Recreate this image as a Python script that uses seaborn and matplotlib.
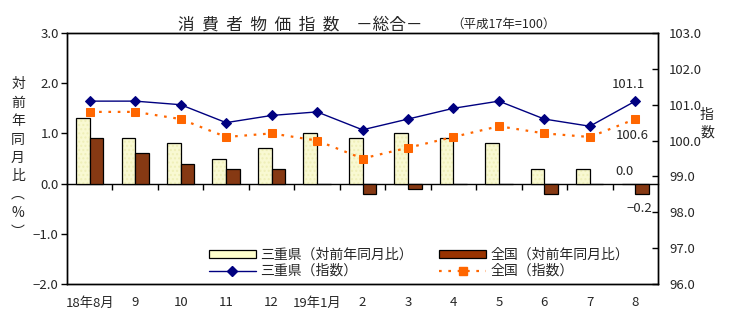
import numpy as np
import pandas as pd
import matplotlib
matplotlib.use("Agg")
import matplotlib.pyplot as plt
import matplotlib.colors as mcolors
from matplotlib.patches import Patch
from matplotlib.lines import Line2D
import seaborn as sns

months = ["18年8月", "9", "10", "11", "12", "19年1月", "2", "3", "4", "5", "6", "7", "8"]
mie_yoy = [1.3, 0.9, 0.8, 0.5, 0.7, 1.0, 0.9, 1.0, 0.9, 0.8, 0.3, 0.3, 0.0]
nat_yoy = [0.9, 0.6, 0.4, 0.3, 0.3, 0.0, -0.2, -0.1, 0.0, 0.0, -0.2, 0.0, -0.2]
mie_idx = [101.1, 101.1, 101.0, 100.5, 100.7, 100.8, 100.3, 100.6, 100.9, 101.1, 100.6, 100.4, 101.1]
nat_idx = [100.8, 100.8, 100.6, 100.1, 100.2, 100.0, 99.5, 99.8, 100.1, 100.4, 100.2, 100.1, 100.6]
lab_mie_bar = "三重県（対前年同月比）"
lab_nat_bar = "全国（対前年同月比）"
lab_mie_line = "三重県（指数）"
lab_nat_line = "全国（指数）"

sns.set_style("white")
plt.rcParams["font.family"] = ["Noto Sans CJK JP", "DejaVu Sans"]

c_mie_bar = "#FFFFCC"
c_nat_bar = "#993300"
c_mie_line = "#000080"
c_nat_line = "#FF6600"

df = pd.DataFrame({
    "month": months * 2,
    "region": [lab_mie_bar] * len(months) + [lab_nat_bar] * len(months),
    "value": mie_yoy + nat_yoy,
})

fig = plt.figure(figsize=(7.29, 3.28), dpi=100)
ax = fig.add_axes([67 / 729, 44 / 328, 591 / 729, 251 / 328])

sns.barplot(data=df, x="month", y="value", hue="region", order=months,
            hue_order=[lab_mie_bar, lab_nat_bar],
            palette={lab_mie_bar: c_mie_bar, lab_nat_bar: c_nat_bar},
            width=0.6, edgecolor="black", linewidth=0.9, ax=ax, legend=False)

# faint dotted pattern for Mie bars
for p in ax.patches[:len(months)]:
    p.set_hatch("....")
    try:
        p._hatch_color = mcolors.to_rgba("#EFEFB8")
    except Exception:
        pass

ax.set_xlim(-0.5, len(months) - 0.5)
ax.set_ylim(-2.0, 3.0)
ax.set_yticks(np.arange(-2, 3.01, 1.0))
ax.set_yticklabels([f"{v:.1f}".replace("-", "−") for v in np.arange(-2, 3.01, 1.0)], fontsize=9.5)
ax.tick_params(axis="y", direction="out", length=4, width=1, color="black", pad=2)
ax.tick_params(axis="x", length=0, pad=9, labelsize=9.5)
ax.set_xlabel("")
ax.set_ylabel("")
for s in ax.spines.values():
    s.set_visible(True)
    s.set_color("black")
    s.set_linewidth(1)

# zero line with category boundary ticks
sec = ax.secondary_xaxis(0.4)
sec.set_xticks(np.arange(0.5, len(months) - 1, 1.0))
sec.set_xticklabels([])
sec.tick_params(direction="out", length=4, width=1, color="black")
sec.spines["bottom"].set_color("black")
sec.spines["bottom"].set_linewidth(1)

ax2 = ax.twinx()
x = np.arange(len(months))
sns.lineplot(x=x, y=mie_idx, ax=ax2, color=c_mie_line, linewidth=1,
             marker="D", markersize=5.5, markeredgecolor=c_mie_line)
sns.lineplot(x=x, y=nat_idx, ax=ax2, color=c_nat_line, linewidth=1.6,
             linestyle=(0, (1.2, 3)), marker="s", markersize=5.5,
             markeredgecolor=c_nat_line)
ax2.set_ylim(96.0, 103.0)
ax2.set_yticks(np.arange(96, 103.01, 1.0))
ax2.set_yticklabels([f"{v:.1f}" for v in np.arange(96, 103.01, 1.0)], fontsize=9.5)
ax2.tick_params(axis="y", direction="in", length=4, width=1, color="black", pad=8)
for s in ax2.spines.values():
    s.set_visible(True)
    s.set_color("black")
    s.set_linewidth(1)

# annotations
ax2.annotate(f"{mie_idx[-1]:.1f}", (x[-1], mie_idx[-1]), xytext=(-5, 7),
             textcoords="offset points", ha="center", va="bottom", fontsize=9.5)
ax2.annotate(f"{nat_idx[-1]:.1f}", (x[-1], nat_idx[-1]), xytext=(-2, -7),
             textcoords="offset points", ha="center", va="top", fontsize=9.5)
ax.annotate(f"{mie_yoy[-1]:.1f}", (x[-1] - 0.15, mie_yoy[-1]), xytext=(-3, 4),
            textcoords="offset points", ha="center", va="bottom", fontsize=9.5)
ax.annotate(f"{nat_yoy[-1]:.1f}".replace("-", "−"), (x[-1] + 0.15, nat_yoy[-1]),
            xytext=(-2, -6), textcoords="offset points", ha="center", va="top", fontsize=9.5)

# legend
handles = [
    Patch(facecolor=c_mie_bar, edgecolor="black", linewidth=0.9),
    Line2D([], [], color=c_mie_line, linewidth=1, marker="D", markersize=5.5),
    Patch(facecolor=c_nat_bar, edgecolor="black", linewidth=0.9),
    Line2D([], [], color=c_nat_line, linewidth=1.6, linestyle=(0, (1.2, 3)),
           marker="s", markersize=5.5),
]
labels = [lab_mie_bar, lab_mie_line, lab_nat_bar, lab_nat_line]
leg = ax2.legend(handles, labels, ncol=2, loc="lower left",
                 bbox_to_anchor=((199 - 67) / 591, -0.015), frameon=False,
                 fontsize=10, handlelength=3.4, handleheight=0.5,
                 columnspacing=1.9, handletextpad=0.3, labelspacing=0.15,
                 borderpad=0.2)

# titles and axis labels
fig.text(300 / 729, 1 - 25 / 328, "消  費  者  物  価  指  数　－総合－", ha="center",
         va="center", fontsize=12)
fig.text(503 / 729, 1 - 24 / 328, "（平成17年=100）", ha="center", va="center",
         fontsize=9)
fig.text(18 / 729, 1 - 158 / 328, "対\n前\n年\n同\n月\n比\n︵\n%\n︶", ha="center",
         va="center", fontsize=10, linespacing=1.4)
fig.text(707 / 729, 1 - 124 / 328, "指\n数", ha="center", va="center",
         fontsize=10, linespacing=1.3)

fig.savefig("out.png", dpi=100)
